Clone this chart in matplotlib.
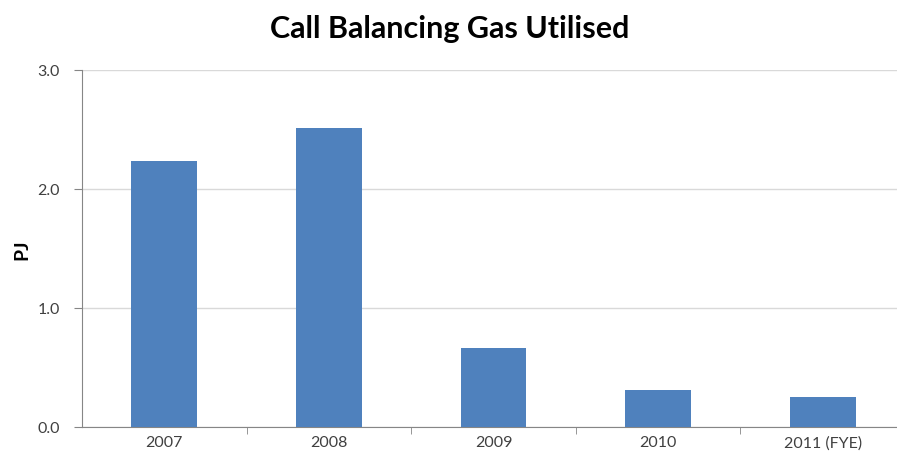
import matplotlib.pyplot as plt

categories = ["2007", "2008", "2009", "2010", "2011 (FYE)"]
values = [2.23, 2.51, 0.66, 0.31, 0.25]
y_ticks = [0.0, 1.0, 2.0, 3.0]

plt.rcParams['font.family'] = ['Lato', 'DejaVu Sans']

fig = plt.figure(figsize=(8.97, 4.6), dpi=100)
ax = fig.add_axes([82 / 897, 1 - 428 / 460, 823 / 897, (428 - 70.7) / 460])

x = list(range(len(categories)))
ax.bar(x, values, width=0.4, color="#4F81BD", zorder=3)

ax.set_xlim(-0.5, len(categories) - 0.5)
ax.set_ylim(0, 3.0)
ax.set_yticks(y_ticks)
ax.set_yticklabels([f"{v:.1f}" for v in y_ticks], fontsize=11.5, color="#404040")
ax.yaxis.grid(True, color="#D9D9D9", linewidth=1, zorder=0)

ax.set_xticks(x)
ax.set_xticklabels(categories, fontsize=11.5, color="#404040")
ax.tick_params(axis="x", length=0, pad=6)
ax.set_xticks([i + 0.5 for i in range(len(categories) - 1)], minor=True)
ax.tick_params(axis="x", which="minor", length=5, color="#868686", direction="out")
ax.tick_params(axis="y", length=6, color="#868686", direction="out", pad=10)

for side in ["top", "right"]:
    ax.spines[side].set_visible(False)
for side in ["left", "bottom"]:
    ax.spines[side].set_color("#868686")

ax.set_ylabel("PJ", fontsize=14, fontweight="bold", labelpad=5)
fig.text(450 / 897, 1 - 29 / 460, "Call Balancing Gas Utilised", ha="center",
         va="center", fontsize=22, fontweight="bold")

fig.savefig("out.png", dpi=100)
